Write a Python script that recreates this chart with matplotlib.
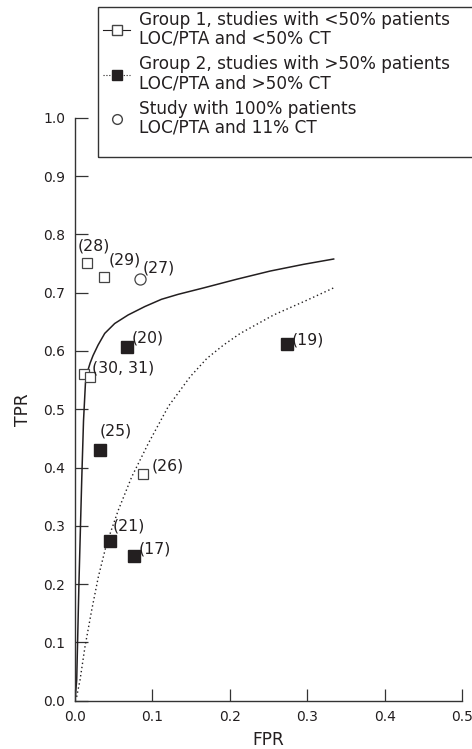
import matplotlib
matplotlib.use("Agg")
import matplotlib.pyplot as plt
from matplotlib.lines import Line2D
from matplotlib.patches import Rectangle

plt.rcParams['font.family'] = ['DejaVu Sans']

# SROC curves (FPR, TPR)
sroc1_fpr = [0.0, 0.0022, 0.0052, 0.0087, 0.011, 0.0135, 0.0165, 0.0195, 0.0233, 0.0298,
             0.0384, 0.0513, 0.0686, 0.0901, 0.1117, 0.1332, 0.166, 0.2092, 0.2523,
             0.2954, 0.3342]
sroc1_tpr = [0.0, 0.0355, 0.207, 0.379, 0.48, 0.545, 0.566, 0.579, 0.592, 0.610,
             0.630, 0.647, 0.6616, 0.676, 0.6885, 0.697, 0.708, 0.723, 0.737,
             0.7485, 0.7576]
sroc2_fpr = [0.0, 0.0022, 0.0065, 0.0129, 0.0216, 0.0302, 0.041, 0.056, 0.0733, 0.0948,
             0.1207, 0.1488, 0.1703, 0.1918, 0.2135, 0.2566, 0.2997, 0.334]
sroc2_tpr = [0.0, 0.007, 0.0355, 0.0926, 0.1556, 0.2127, 0.270, 0.327, 0.384, 0.4415,
             0.505, 0.5557, 0.587, 0.610, 0.630, 0.6616, 0.687, 0.708]

# group 1 studies (open squares)
g1_ref = ["(28)", "(29)", "", "(30, 31)", "(26)"]
g1_fpr = [0.0151, 0.0375, 0.012, 0.0194, 0.0884]
g1_tpr = [0.750, 0.727, 0.560, 0.555, 0.389]
# group 2 studies (filled squares)
g2_ref = ["(20)", "(19)", "(25)", "(21)", "(17)"]
g2_fpr = [0.0669, 0.2739, 0.0323, 0.0453, 0.0763]
g2_tpr = [0.606, 0.611, 0.430, 0.274, 0.249]
# single study (open circle)
s3_ref = ["(27)"]
s3_fpr = [0.0841]
s3_tpr = [0.723]

# label offsets in pixels (dx, dy), text anchored left-centre
lab_off = {"(28)": (-9, 17), "(29)": (5, 17), "(30, 31)": (2, 9), "(26)": (8, 8),
           "(20)": (5, 9), "(19)": (5, 4), "(25)": (0, 19), "(21)": (3, 15),
           "(17)": (5, 7), "(27)": (3, 11)}

INK = "#231f20"
EDGE = "#444444"
fig = plt.figure(figsize=(4.72, 7.49), dpi=100)
ax = fig.add_axes([75 / 472, 48.3 / 749, 387 / 472, 583 / 749])

ax.plot(sroc1_fpr, sroc1_tpr, "-", color=INK, lw=1.1, zorder=2)
ax.plot(sroc2_fpr, sroc2_tpr, ls=(0, (1, 2)), color=INK, lw=1.0, zorder=2)
ax.plot(g1_fpr, g1_tpr, "s", ms=7.5, mfc="white", mec=EDGE, mew=0.9, ls="none", zorder=3)
ax.plot(g2_fpr, g2_tpr, "s", ms=8.3, mfc=INK, mec=INK, ls="none", zorder=3)
ax.plot(s3_fpr, s3_tpr, "o", ms=8, mfc="white", mec=EDGE, mew=0.9, ls="none", zorder=3)

for refs, xs, ys in [(g1_ref, g1_fpr, g1_tpr), (g2_ref, g2_fpr, g2_tpr), (s3_ref, s3_fpr, s3_tpr)]:
    for r, x, y in zip(refs, xs, ys):
        if not r:
            continue
        dx, dy = lab_off[r]
        ax.annotate(r, (x, y), xytext=(dx, dy), textcoords="offset pixels",
                    ha="left", va="center", fontsize=11.3, color=INK)

ax.set_xlim(0, 0.5)
ax.set_ylim(0, 1.0)
ax.set_xticks([0.0, 0.1, 0.2, 0.3, 0.4, 0.5])
ax.set_xticklabels(["0.0", "0.1", "0.2", "0.3", "0.4", "0.5"])
ax.set_yticks([i / 10 for i in range(11)])
ax.set_yticklabels([f"{i / 10:.1f}" for i in range(11)])
ax.tick_params(direction="in", length=9, width=0.9, color="#333333", labelsize=10,
               labelcolor=INK)
ax.tick_params(axis="x", pad=6.5)
ax.tick_params(axis="y", pad=7)
for s in ["top", "right"]:
    ax.spines[s].set_visible(False)
for s in ["left", "bottom"]:
    ax.spines[s].set_linewidth(1.0)
    ax.spines[s].set_color("#333333")
ax.set_xlabel("FPR", fontsize=12.3, color=INK, labelpad=5)
ax.set_ylabel("TPR", fontsize=12.3, color=INK, labelpad=8)

handles = [
    Line2D([], [], ls="-", color=INK, lw=0.8, marker="s", ms=7, mfc="white", mec=EDGE),
    Line2D([], [], ls=(0, (1, 1.6)), color=INK, lw=0.8, marker="s", ms=7, mfc=INK, mec=INK),
    Line2D([], [], ls="none", marker="o", ms=7, mfc="white", mec=EDGE),
]
labels = ["Group 1, studies with <50% patients\nLOC/PTA and <50% CT",
          "Group 2, studies with >50% patients\nLOC/PTA and >50% CT",
          "Study with 100% patients\nLOC/PTA and 11% CT"]
leg = fig.legend(handles, labels, loc="upper left", bbox_to_anchor=(98.3 / 472, 1 - 5.5 / 749),
                 fontsize=12.2, frameon=False, handlelength=1.55,
                 handletextpad=0.55, labelspacing=0.45, borderpad=0.3, borderaxespad=0)
for t in leg.get_texts():
    t.set_color(INK)
    t.set_linespacing(1.07)

# legend box runs off the right edge of the figure, as in the source
fig.add_artist(Rectangle((98.3 / 472, 1 - 156.7 / 749), 400 / 472, 149.4 / 749,
                         transform=fig.transFigure, fill=False, ec="#333333", lw=1.0,
                         clip_on=False))

fig.savefig("out.png", dpi=100)
